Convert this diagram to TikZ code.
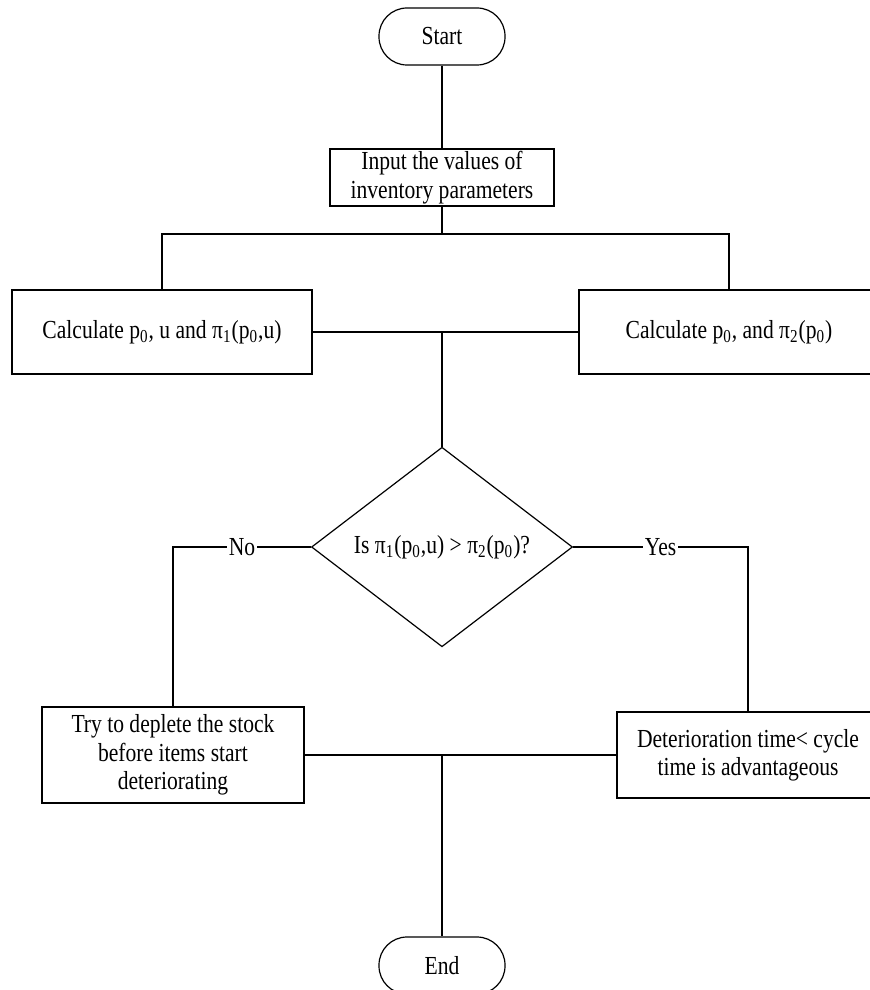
\documentclass[tikz,border=0pt]{standalone}
\usepackage{fontspec}
\setmainfont[FakeStretch=0.83]{Liberation Serif}
\usepackage{tikz}
\usetikzlibrary{shapes.geometric, positioning}

\begin{document}
\begin{tikzpicture}[
        x=0.5pt, y=-0.5pt,
        font=\fontsize{13}{14.2}\selectfont,
        line width=0.6pt,
        terminal/.style={rectangle, rounded corners=14pt, draw, minimum width=63pt, minimum height=28.5pt, inner sep=0pt},
        process/.style={rectangle, draw, align=center, inner sep=0pt},
        decision/.style={diamond, draw, minimum width=130.5pt, minimum height=88pt, inner sep=0pt},
        answer/.style={fill=white, inner sep=1pt}
      ]
      \useasboundingbox (0,0) rectangle (869,990);

      \node[terminal] (start) at (442,36.5) {Start};
      \node[process, minimum width=112pt, minimum height=28.5pt] (input) at (442,177.5) {Input the values of\\inventory parameters};
      \node[process, minimum width=150pt, minimum height=42pt] (calcA) at (162,332) {Calculate p\textsubscript{0}, u and π\textsubscript{1}(p\textsubscript{0},u)};
      \node[process, minimum width=150pt, minimum height=42pt] (calcB) at (729,332) {Calculate p\textsubscript{0}, and π\textsubscript{2}(p\textsubscript{0})};
      \node[decision] (check) at (442,547) {Is π\textsubscript{1}(p\textsubscript{0},u) > π\textsubscript{2}(p\textsubscript{0})?};
      \node[process, minimum width=131pt, minimum height=48pt] (deplete) at (173,755) {Try to deplete the stock\\before items start\\deteriorating};
      \node[process, minimum width=131pt, minimum height=43pt] (advant) at (748,755) {Deterioration time< cycle\\time is advantageous};
      \node[terminal] (stop) at (442,965.5) {End};

      \coordinate (split) at (442,234);
      \coordinate (joinA) at (check.north |- calcA.east);
      \coordinate (joinB) at (check.south |- deplete.east);

      \draw (start) -- (input);
      \draw (input) -- (split);
      \draw (calcA.north) |- (split) -| (calcB.north);
      \draw (calcA) -- (calcB);
      \draw (joinA) -- (check);
      \draw (check.west) -| node[answer, pos=0.25] {No} (deplete.north);
      \draw (check.east) -| node[answer, pos=0.25] {Yes} (advant.north);
      \draw (deplete) -- (advant);
      \draw (joinB) -- (stop);
\end{tikzpicture}
\end{document}
